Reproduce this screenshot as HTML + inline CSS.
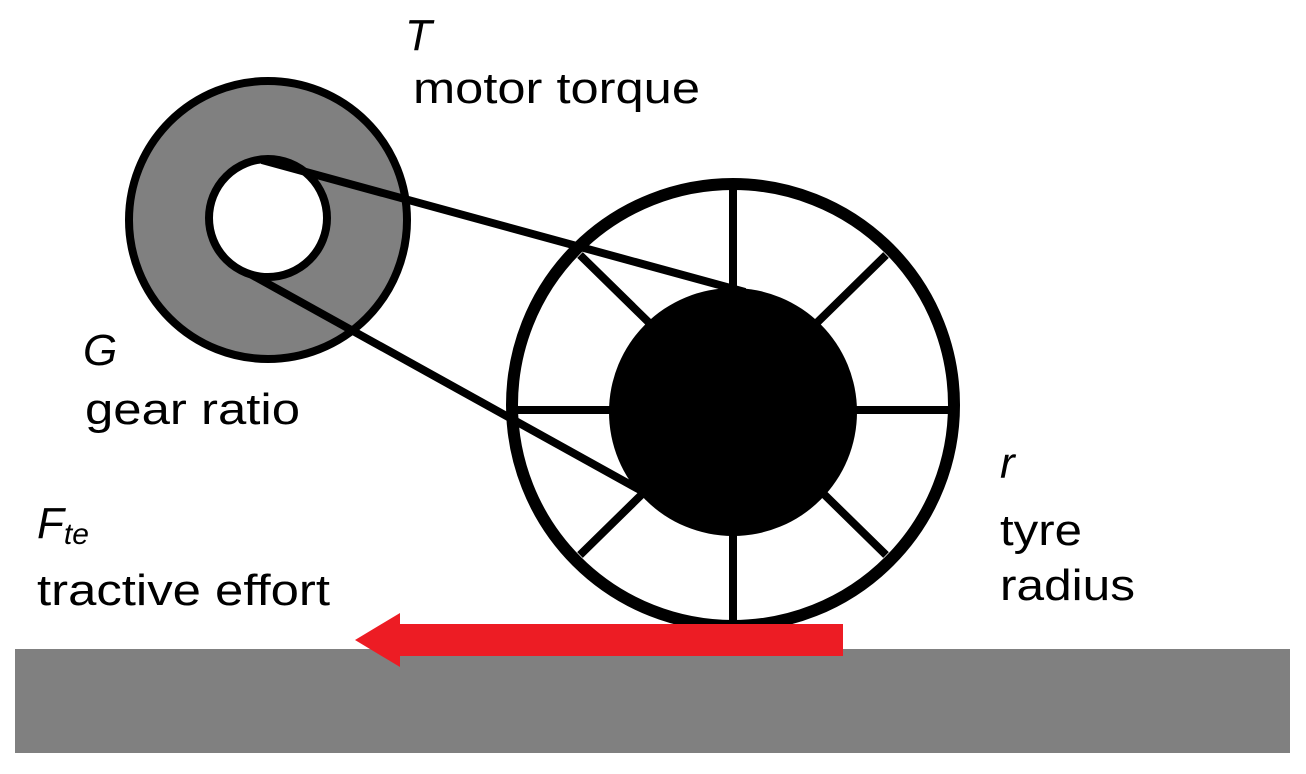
<!DOCTYPE html>
<html><head><meta charset="utf-8"><style>html,body{margin:0;padding:0;background:#fff}svg{display:block}</style></head>
<body>
<svg width="1306" height="774" viewBox="0 0 1306 774" xmlns="http://www.w3.org/2000/svg" font-family="Liberation Sans, sans-serif" font-size="44">
<rect x="15" y="649" width="1275" height="104" fill="#808080"/>
<circle cx="268" cy="220" r="139" fill="#808080" stroke="#000" stroke-width="8"/>
<circle cx="268" cy="218" r="59" fill="#fff" stroke="#000" stroke-width="8"/>
<circle cx="733" cy="405" r="221" fill="#fff" stroke="#000" stroke-width="12"/>
<g stroke="#000" stroke-width="8">
<line x1="733" y1="190" x2="733" y2="620"/>
<line x1="515" y1="410" x2="952" y2="410"/>
<line x1="580" y1="255" x2="886" y2="555"/>
<line x1="886" y1="255" x2="580" y2="555"/>
<line x1="262" y1="160" x2="745" y2="292"/>
<line x1="252" y1="275" x2="640" y2="490"/>
</g>
<circle cx="733" cy="412" r="124" fill="#000"/>
<polygon points="843,624 400,624 400,613 355,640 400,667 400,656 843,656" fill="#ed1c24"/>
<text x="405" y="50" font-style="italic">T</text>
<text x="413" y="103" textLength="287" lengthAdjust="spacingAndGlyphs">motor torque</text>
<text x="83" y="365" font-style="italic">G</text>
<text x="85" y="424" textLength="215" lengthAdjust="spacingAndGlyphs">gear ratio</text>
<text x="37" y="538" font-style="italic">F<tspan font-size="30" dy="6">te</tspan></text>
<text x="37" y="605" textLength="293" lengthAdjust="spacingAndGlyphs">tractive effort</text>
<text x="1000" y="478" font-style="italic">r</text>
<text x="1000" y="545" textLength="82" lengthAdjust="spacingAndGlyphs">tyre</text>
<text x="1000" y="600" textLength="135" lengthAdjust="spacingAndGlyphs">radius</text>
</svg>
</body></html>
